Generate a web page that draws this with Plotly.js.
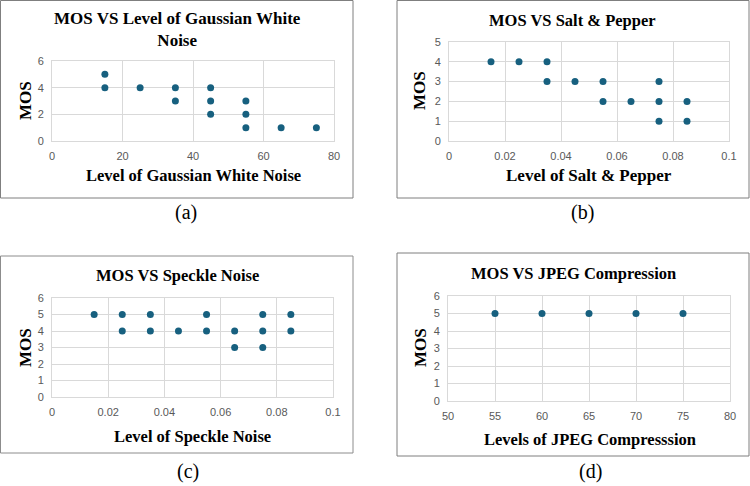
<!DOCTYPE html>
<html>
<head>
<meta charset="utf-8">
<script src="https://cdn.plot.ly/plotly-3.0.1.min.js"></script>
<style>html,body{margin:0;padding:0;background:#fff;}#chart{width:750px;height:486px;}</style>
</head>
<body>
<div id="chart"></div>
<script>
// ---- Data ----
const gaussLevel = [15, 15, 25, 35, 35, 45, 45, 45, 55, 55, 55, 65, 75];
const gaussMOS   = [5, 4, 4, 4, 3, 4, 3, 2, 3, 2, 1, 1, 1];

const spLevel = [0.015, 0.025, 0.035, 0.035, 0.045, 0.055, 0.055, 0.065, 0.075, 0.075, 0.075, 0.085, 0.085];
const spMOS   = [4, 4, 4, 3, 3, 3, 2, 2, 3, 2, 1, 2, 1];

const speckleLevel = [0.015, 0.025, 0.025, 0.035, 0.035, 0.045, 0.055, 0.055, 0.065, 0.065, 0.075, 0.075, 0.075, 0.085, 0.085];
const speckleMOS   = [5, 5, 4, 5, 4, 4, 5, 4, 4, 3, 5, 4, 3, 5, 4];

const jpegLevel = [55, 60, 65, 70, 75];
const jpegMOS   = [5, 5, 5, 5, 5];

const chartTitles = ["MOS VS Level of Gaussian White<br>Noise", "MOS VS Salt & Pepper", "MOS VS Speckle Noise", "MOS VS JPEG Compression"];
const xTitles = ["Level of Gaussian White Noise", "Level of Salt & Pepper", "Level of Speckle Noise", "Levels of JPEG Compresssion"];
const captions = ["(a)", "(b)", "(c)", "(d)"];

// ---- Layout helpers ----
const W = 750, H = 486;
const px = x => x / W;
const py = y => 1 - y / H;

const markerColor = '#17607f';
const serif = 'Liberation Serif, Times New Roman, serif';
const sans = 'Liberation Sans, Arial, sans-serif';

function mkTrace(x, y, n) {
  return {
    x: x, y: y, type: 'scatter', mode: 'markers',
    xaxis: n === 1 ? 'x' : 'x' + n, yaxis: n === 1 ? 'y' : 'y' + n,
    marker: {color: markerColor, size: 7},
    hoverinfo: 'x+y', showlegend: false
  };
}

function axis(domain, range, dtick, anchor, fmt) {
  return {
    domain: domain, range: range, dtick: dtick, tick0: range[0],
    anchor: anchor, showgrid: true, gridcolor: '#d9d9d9', gridwidth: 1,
    zeroline: false, showline: true, linecolor: '#d9d9d9', linewidth: 1, mirror: true,
    ticks: 'outside', ticklen: 5, tickcolor: 'rgba(0,0,0,0)',
    tickfont: {family: sans, size: 11, color: '#595959'},
    tickformat: fmt || '', fixedrange: true
  };
}

const layout = {
  width: W, height: H,
  margin: {l: 0, r: 0, t: 0, b: 0},
  paper_bgcolor: '#fff', plot_bgcolor: '#fff',
  showlegend: false,
  xaxis:  axis([px(52), px(334)], [0, 80], 20, 'y'),
  yaxis:  axis([py(141), py(61)], [0, 6], 2, 'x'),
  xaxis2: axis([px(449), px(729)], [0, 0.1], 0.02, 'y2'),
  yaxis2: axis([py(141), py(42)], [0, 5], 1, 'x2'),
  xaxis3: axis([px(52), px(333)], [0, 0.1], 0.02, 'y3'),
  yaxis3: axis([py(397), py(298)], [0, 6], 1, 'x3'),
  xaxis4: axis([px(448), px(730)], [50, 80], 5, 'y4'),
  yaxis4: axis([py(401), py(296)], [0, 6], 1, 'x4'),
  shapes: [
    {type: 'rect', xref: 'paper', yref: 'paper', x0: px(0.5), x1: px(353), y0: py(0.5), y1: py(198), line: {color: '#7f7f7f', width: 1}},
    {type: 'rect', xref: 'paper', yref: 'paper', x0: px(397), x1: px(749), y0: py(0.5), y1: py(198), line: {color: '#7f7f7f', width: 1}},
    {type: 'rect', xref: 'paper', yref: 'paper', x0: px(0.5), x1: px(353), y0: py(256), y1: py(453), line: {color: '#8c8c8c', width: 1}},
    {type: 'rect', xref: 'paper', yref: 'paper', x0: px(397), x1: px(749), y0: py(253), y1: py(456), line: {color: '#7f7f7f', width: 1}}
  ],
  annotations: []
};

function ann(text, x, y, size, bold, angle) {
  layout.annotations.push({
    text: bold ? '<b>' + text + '</b>' : text,
    xref: 'paper', yref: 'paper', x: px(x), y: py(y),
    xanchor: 'center', yanchor: 'middle', showarrow: false,
    textangle: angle || 0,
    font: {family: serif, size: size, color: '#000'}
  });
}

// chart titles
ann(chartTitles[0], 177, 29, 17, true);
ann(chartTitles[1], 572, 20, 16.5, true);
ann(chartTitles[2], 177, 275, 16.5, true);
ann(chartTitles[3], 573, 273, 16.5, true);
// x titles
ann(xTitles[0], 193, 175, 16.5, true);
ann(xTitles[1], 589, 175, 17, true);
ann(xTitles[2], 192, 436, 16.5, true);
ann(xTitles[3], 590, 439, 16.5, true);
// y titles
ann('MOS', 25, 101, 17, true, -90);
ann('MOS', 420, 91, 17, true, -90);
ann('MOS', 25, 348, 17, true, -90);
ann('MOS', 420, 348, 17, true, -90);
// captions
ann(captions[0], 186, 212, 20, false);
ann(captions[1], 582, 212, 20, false);
ann(captions[2], 188, 471, 20, false);
ann(captions[3], 590, 471, 20, false);

const data = [
  mkTrace(gaussLevel, gaussMOS, 1),
  mkTrace(spLevel, spMOS, 2),
  mkTrace(speckleLevel, speckleMOS, 3),
  mkTrace(jpegLevel, jpegMOS, 4)
];

Plotly.newPlot('chart', data, layout, {displayModeBar: false, staticPlot: true});
</script>
</body>
</html>
